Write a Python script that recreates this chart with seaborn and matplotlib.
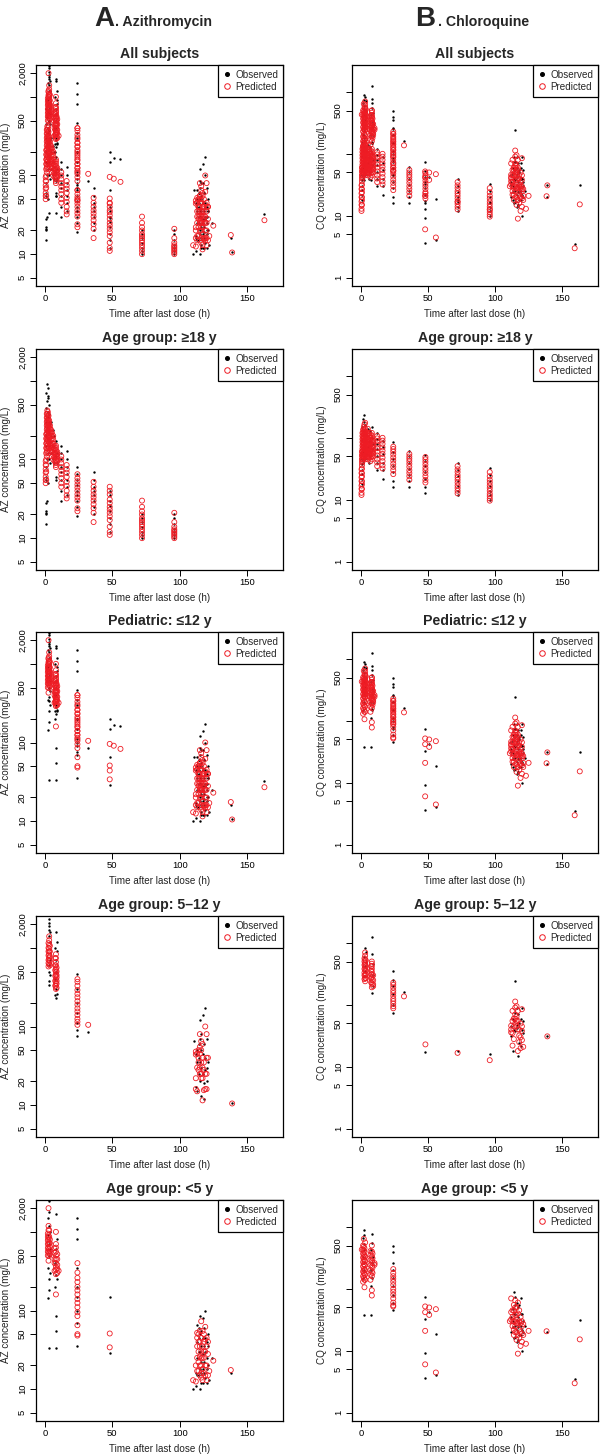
import matplotlib
matplotlib.use("Agg")
import matplotlib.pyplot as plt
import pandas as pd
import seaborn as sns
from matplotlib.lines import Line2D

# ---------------------------------------------------------------- data
# Each list: (time after last dose [h], [concentrations mg/L])
AZ_ADULT_OBS = [
    (0.3, [15, 22, 60]), (0.6, [20, 55, 150, 300]), (1.0, [21, 28, 80, 200, 450, 700]),
    (1.4, [30, 100, 250, 550, 900]), (1.8, [120, 350, 600, 800]), (2.2, [50, 180, 400, 650]),
    (2.6, [150, 300, 500]), (3.0, [100, 220, 380]), (3.5, [90, 170, 280]),
    (4.5, [120, 200, 300]), (5.5, [100, 150, 240]), (6.5, [90, 130, 200]),
    (8.0, [55, 60, 110, 170]), (9.0, [90, 120]),
    (12.0, [30, 40, 55, 70, 80, 100, 120, 150]), (16.0, [35, 45, 55, 65, 80, 100, 130]),
    (24.0, [19, 25, 30, 35, 40, 48, 55, 65, 80]), (36.0, [20, 25, 30, 35, 40, 45, 55, 70]),
    (48.0, [12, 15, 18, 22, 26, 30, 35, 40]), (72.0, [10, 11, 12, 14, 16, 18, 20]),
    (96.0, [10, 11, 12, 13, 15, 18, 20]),
]
AZ_ADULT_PRED = [
    (0.4, [50, 55, 60, 68, 75, 85, 95]), (0.8, [55, 70, 85, 100, 120, 140, 160, 185, 210]),
    (1.2, [110, 125, 140, 160, 180, 210, 240, 270, 300, 340, 380]),
    (1.6, [130, 150, 170, 195, 220, 250, 280, 310, 340, 380, 420]),
    (2.0, [150, 175, 200, 230, 260, 290, 320, 360, 400]),
    (2.5, [120, 145, 170, 200, 230, 260, 290, 325, 360]),
    (3.0, [140, 165, 190, 220, 250, 280, 310]), (3.6, [130, 150, 170, 195, 220, 245, 270]),
    (4.3, [150, 175, 200, 220, 240]), (5.0, [110, 125, 140, 160, 180, 200, 220]),
    (6.0, [100, 115, 130, 145, 160, 180, 200]), (7.0, [95, 108, 120, 135, 150]),
    (8.0, [80, 85, 90, 95, 100, 108, 115, 122, 130, 140, 150]), (9.0, [95, 102, 110, 118, 125]),
    (12.0, [45, 50, 58, 65, 72, 80, 90, 100, 110]), (16.0, [32, 35, 40, 46, 52, 60, 68, 75, 85]),
    (24.0, [22, 24, 30, 33, 36, 40, 44, 48, 53, 58, 65]),
    (36.0, [16, 21, 24, 27, 30, 33, 36, 40, 45, 52]),
    (48.0, [11, 12, 14, 17, 19, 21, 23, 25, 28, 31, 36, 40, 45]),
    (72.0, [10, 11, 12, 13, 14, 15, 16, 17, 18, 20, 22, 25, 30]),
    (96.0, [10, 10.5, 11, 11.5, 12, 12.5, 13, 14, 16, 21]),
]
AZ_512_OBS = [
    (2.5, [380, 1700, 2100]), (3.0, [340, 500, 600, 1400, 1900, 2300]), (3.5, [450, 700, 1200, 1600]),
    (7.5, [250, 400, 1000]), (8.0, [230, 300, 500, 700, 1600]), (8.5, [260, 900, 1200]),
    (24.0, [75, 90, 110, 150, 200, 300, 470]), (32.0, [85]),
    (111, [65]), (112, [17, 45]), (113, [15, 35, 50]), (114, [25, 40, 60]),
    (115, [20, 35, 70, 120]), (116, [13, 30, 50, 80]), (117, [25, 45, 140]), (118, [12, 19, 60]),
    (119, [28, 40, 170]), (120, [20, 30, 70]), (121, [35]), (139, [10.5]),
]
AZ_512_PRED = [
    (2.5, [580, 640, 700, 800, 900, 1000, 1150]),
    (3.0, [620, 700, 750, 820, 900, 980, 1100, 1250, 1400]),
    (3.5, [600, 680, 780, 900, 1060]),
    (7.5, [330, 380, 440, 520, 600, 740]),
    (8.0, [300, 330, 360, 400, 450, 490, 540, 600, 660, 740, 830]),
    (8.5, [310, 350, 380, 420, 450, 500, 560]),
    (24.0, [105, 115, 125, 140, 155, 170, 190, 210, 235, 260, 290, 330, 370, 400]), (32.0, [105]),
    (112, [16, 22, 44, 48]), (113, [15, 30, 45]), (114, [28, 35, 40, 50]),
    (115, [25, 30, 45, 55, 80]), (116, [22, 25, 35, 50, 65]), (117, [11.5, 22, 30, 40, 60]),
    (118, [15.5, 28, 35]), (119, [16, 25, 100]), (120, [16, 25, 40, 80]), (121, [40]),
    (139, [10.5]),
]
AZ_U5_OBS = [
    (2.0, [146, 350, 900, 1500]), (2.5, [180, 500, 1200, 2500]), (3.0, [33, 250, 700, 1800]),
    (3.5, [300, 600, 1000]), (7.0, [200, 400]), (8.0, [33, 55, 85, 280, 600, 1700]), (9.0, [250, 800]),
    (24.0, [35, 70, 100, 150, 200, 350, 800, 1100, 1500]), (48.0, [29, 150]),
    (110, [10]), (112, [11, 16]), (113, [15, 25, 40, 65]), (114, [15, 30, 45, 60]),
    (115, [10, 18, 30, 50, 85]), (116, [12, 16, 22, 35, 55]), (117, [12, 18, 28, 45, 80]),
    (118, [16, 22, 35, 60]), (119, [14, 30, 45, 100]), (120, [12, 18, 25, 40]),
    (121, [20, 35, 50]), (122, [13]), (124, [25]), (138, [16]),
]
AZ_U5_PRED = [
    (2.0, [500, 560, 620, 700, 780, 860, 950]),
    (2.5, [430, 550, 640, 700, 800, 900, 1050, 1190, 2000]),
    (3.0, [495, 540, 600, 720, 860, 1050]), (3.5, [520, 580, 650, 720, 800]),
    (7.0, [320, 400, 450, 540, 620]),
    (8.0, [160, 290, 330, 360, 400, 450, 500, 560, 630, 700, 1000]),
    (9.0, [300, 340, 380, 450, 520]), (10.0, [320]),
    (24.0, [48, 50, 65, 85, 95, 110, 125, 140, 160, 180, 200, 230, 260, 304, 400]), (48.0, [34, 51]),
    (110, [13]), (112, [12.5, 20]), (113, [17, 25, 35, 45, 52]), (114, [17, 22, 30, 40, 50]),
    (115, [15, 20, 26, 35, 40, 55]), (116, [14, 16, 20, 25, 30, 45, 73]),
    (117, [13, 18, 25, 35, 55]), (118, [16, 25, 30, 40, 50]), (119, [15, 20, 30, 43, 62]),
    (120, [13, 20, 35, 45]), (121, [15, 28, 40]), (122, [17]), (125, [23]), (138, [17.5]),
]
AZ_PED_OTHER_OBS = [(48.0, [66, 200]), (51.0, [165]), (56.0, [160]), (163.0, [32])]
AZ_PED_OTHER_PRED = [(48.0, [44, 96]), (51.0, [91]), (56.0, [83]), (163.0, [27])]

CQ_ADULT_OBS = [
    (0.3, [18, 22, 26]), (0.7, [30, 38, 55]), (1.0, [45, 90, 150]), (1.5, [40, 60, 110, 200]),
    (2.0, [50, 75, 130, 235]), (2.5, [65, 180]), (3.0, [45, 90, 160]), (4.0, [55, 110]),
    (5.0, [70, 140]), (6.0, [40, 90]), (7.0, [50, 130]), (8.0, [65, 100, 150]), (9.0, [80]),
    (12.0, [30, 40, 50, 65, 80, 95, 120]), (16.0, [22, 30, 40, 55, 70, 90]),
    (24.0, [16, 20, 28, 35, 45, 60, 85]), (36.0, [16, 20, 25, 32, 40, 50, 62]),
    (48.0, [13, 16, 22, 28, 35, 42, 52]), (72.0, [12, 14, 17, 20, 24, 30, 40]),
    (96.0, [10, 12, 14, 17, 20, 25, 33]),
]
CQ_ADULT_PRED = [
    (0.3, [12, 13, 15, 17, 20, 23, 27, 31]),
    (0.6, [15, 18, 20, 24, 27, 32, 36, 40, 45, 52, 60]),
    (1.0, [42, 46, 50, 55, 60, 67, 75, 85, 95, 107, 120]),
    (1.5, [45, 50, 55, 62, 70, 77, 85, 95, 105, 120, 135]),
    (2.0, [50, 56, 62, 70, 80, 90, 100, 112, 125, 137, 150]),
    (2.5, [48, 54, 60, 66, 72, 80, 90, 102, 115, 130, 165]),
    (3.0, [45, 51, 58, 64, 70, 78, 88, 98, 110, 125, 140, 175]),
    (4.0, [50, 57, 65, 72, 80, 90, 100, 112, 125]),
    (5.0, [45, 51, 58, 66, 75, 85, 95, 115, 140]),
    (6.0, [48, 54, 60, 68, 78, 88, 100, 110, 120]),
    (7.0, [42, 48, 55, 62, 70, 80, 90, 100, 110]),
    (8.0, [45, 50, 55, 60, 65, 72, 80, 90, 100, 110, 120]),
    (9.0, [50, 56, 62, 68, 75, 82, 90]),
    (12.0, [35, 40, 45, 52, 60, 68, 78, 88, 98, 107]), (16.0, [32, 36, 42, 48, 55, 62, 70, 80, 90, 100]),
    (24.0, [26, 30, 34, 38, 43, 48, 54, 60, 66, 72]), (36.0, [21, 24, 27, 30, 34, 38, 42, 46, 50, 55]),
    (48.0, [19, 21, 24, 27, 30, 33, 37, 41, 45, 49]),
    (72.0, [12.7, 14, 15.5, 17, 19, 21, 23, 25, 28, 31, 35]),
    (96.0, [9.7, 10.5, 11.5, 12.5, 14, 15.5, 17, 19, 21, 24, 28]),
]
CQ_512_OBS = [
    (2.5, [290, 600]), (3.0, [350, 420, 830]), (3.5, [500, 700]), (8.0, [154, 660, 1230]),
    (8.5, [200, 300, 450]), (24.0, [75, 100, 150, 200, 250, 357]), (32.0, [162]),
    (112, [32, 45]), (113, [18, 60]), (114, [40, 55]), (115, [38, 75, 245]), (116, [42, 48, 90]),
    (117, [15, 70]), (118, [24, 50]), (119, [22, 60]), (120, [40, 90]), (121, [35, 55]), (139, [31]),
]
CQ_512_PRED = [
    (2.5, [260, 300, 330, 380, 440, 500, 560]),
    (3.0, [240, 270, 300, 360, 400, 440, 480, 540, 620, 700]), (3.5, [270, 310, 350, 420, 520]),
    (7.5, [230, 270, 310, 360, 420]), (8.0, [192, 220, 250, 280, 310, 340, 380, 420, 460, 500]),
    (9.0, [200, 215, 250, 300]),
    (24.0, [88, 95, 105, 115, 125, 140, 155, 170, 190, 210, 228]), (32.0, [137]),
    (112, [36, 40, 46]), (113, [22, 35, 55, 80]), (114, [28, 45, 60]), (115, [50, 60, 70, 90, 113]),
    (116, [45, 55, 65, 95]), (117, [18, 40, 55, 80]), (118, [25, 32, 40]), (119, [20, 30, 50]),
    (120, [27, 38, 45, 85]), (121, [21]), (139, [31]),
]
CQ_512_VISIT_OBS = [(48.0, [17.6]), (72.0, [18]), (96.0, [16])]
CQ_512_VISIT_PRED = [(48.0, [23]), (72.0, [16.8]), (96.0, [12.8])]
CQ_U5_OBS = [
    (1.5, [150, 330, 650]), (2.0, [38, 200, 520, 900]), (2.5, [260, 420, 750]),
    (7.5, [38, 110, 200, 420]), (8.0, [150, 260, 550, 774]), (8.5, [330]),
    (24.0, [46, 60, 80, 110, 150, 200, 260, 400, 500]),
    (47.8, [3.66, 9.1, 33, 73]), (50.8, [43]), (55.8, [4.0, 19]),
    (112, [20, 35]), (113, [24, 30, 48]), (114, [16, 28, 40, 90]), (115, [17, 25, 40, 55, 75]),
    (116, [14, 22, 32, 60]), (117, [15, 24, 35, 50]), (118, [18, 28, 55]), (119, [18, 25, 40, 70]),
    (120, [10, 22, 40]), (121, [20, 30]), (122, [25]),
    (138.4, [20]), (159.4, [3.46]), (163.2, [31.6]),
]
CQ_U5_PRED = [
    (0.5, [430]), (1.5, [130, 160, 190, 230, 270, 320, 370, 430, 500]),
    (2.0, [150, 180, 210, 250, 300, 350, 410, 480, 640]),
    (2.5, [106, 140, 170, 200, 240, 280, 330, 390, 450]),
    (3.0, [140, 170, 200, 240, 280, 330, 560]),
    (7.0, [140, 170, 200, 240, 290, 350, 408]), (8.0, [78, 95, 160, 190, 230, 280, 330, 400, 500]),
    (8.5, [180, 220, 260, 310, 370]), (10.0, [245, 260]),
    (24.0, [52, 54, 60, 70, 80, 90, 100, 115, 130, 145, 160, 180, 208]),
    (47.8, [6.05, 21, 42, 52]), (50.8, [38, 50]), (55.8, [4.47, 47]),
    (111, [30]), (112, [32, 42, 70]), (113, [25, 30, 35, 45]), (114, [18, 22, 30, 45, 55]),
    (115, [20, 25, 30, 38, 50, 65]), (116, [15, 20, 28, 38, 50]), (117, [9, 18, 28, 40, 60]),
    (118, [16, 22, 30, 45]), (119, [12, 20, 28, 35]), (120, [14, 19, 25, 30]), (121, [18, 27]),
    (123, [13]), (125, [21]),
    (138.4, [20.7]), (159.4, [3.0]), (163.2, [15.3]),
]

TITLES = ["All subjects", "Age group: \u226518 y", "Pediatric: \u226412 y",
          "Age group: 5\u201312 y", "Age group: <5 y"]
AZ_TICKS = [5, 10, 20, 50, 100, 200, 500, 1000, 2000]
AZ_TICKLABELS = ["5", "10", "20", "50", "100", "", "500", "", "2,000"]
CQ_TICKS = [1, 5, 10, 50, 100, 500, 1000]
CQ_TICKLABELS = ["1", "5", "10", "50", "", "500", ""]
X_TICKS = [0, 50, 100, 150]

# ---------------------------------------------------------------- groups
az_ped_obs = AZ_512_OBS + AZ_U5_OBS + AZ_PED_OTHER_OBS
az_ped_pred = AZ_512_PRED + AZ_U5_PRED + AZ_PED_OTHER_PRED
cq_ped_obs = CQ_512_OBS + CQ_U5_OBS
cq_ped_pred = CQ_512_PRED + CQ_U5_PRED

AZ_PANELS = [
    (AZ_ADULT_OBS + az_ped_obs, AZ_ADULT_PRED + az_ped_pred),
    (AZ_ADULT_OBS, AZ_ADULT_PRED),
    (az_ped_obs, az_ped_pred),
    (AZ_512_OBS, AZ_512_PRED),
    (AZ_U5_OBS, AZ_U5_PRED),
]
CQ_PANELS = [
    (CQ_ADULT_OBS + cq_ped_obs + CQ_512_VISIT_OBS, CQ_ADULT_PRED + cq_ped_pred + CQ_512_VISIT_PRED),
    (CQ_ADULT_OBS, CQ_ADULT_PRED),
    (cq_ped_obs, cq_ped_pred),
    (CQ_512_OBS + CQ_512_VISIT_OBS, CQ_512_PRED + CQ_512_VISIT_PRED),
    (CQ_U5_OBS, CQ_U5_PRED),
]


def to_frame(groups):
    rows = [(t, c) for t, cs in groups for c in cs]
    return pd.DataFrame(rows, columns=["time", "conc"])


# ---------------------------------------------------------------- figure
sns.set_theme(style="white")
plt.rcParams["font.family"] = ["Liberation Sans", "DejaVu Sans"]

W, H = 600, 1456
fig = plt.figure(figsize=(W / 100, H / 100), dpi=100)

ROW_TOPS = [65, 349, 632, 916, 1200]
AX_H = 221
COLS = [
    dict(left=36, width=247, panels=AZ_PANELS, ticks=AZ_TICKS, labels=AZ_TICKLABELS,
         ylim=(10 ** 0.5949, 10 ** 3.4051), ylabel="AZ concentration (mg/L)"),
    dict(left=352, width=246, panels=CQ_PANELS, ticks=CQ_TICKS, labels=CQ_TICKLABELS,
         ylim=(10 ** -0.1321, 10 ** 3.4331), ylabel="CQ concentration (mg/L)"),
]
RED = "#EE1C24"

for col in COLS:
    for r, top in enumerate(ROW_TOPS):
        ax = fig.add_axes([col["left"] / W, 1 - (top + AX_H) / H, col["width"] / W, AX_H / H])
        obs, pred = col["panels"][r]
        sns.scatterplot(data=to_frame(obs), x="time", y="conc", ax=ax, color="black",
                        s=3, linewidth=0, marker="o", legend=False, zorder=2)
        sns.scatterplot(data=to_frame(pred), x="time", y="conc", ax=ax,
                        facecolor="none", edgecolor=RED, s=13, linewidth=0.6,
                        marker="o", legend=False, zorder=3)
        ax.set_yscale("log")
        ax.set_xlim(-6.8, 176.8)
        ax.set_ylim(*col["ylim"])
        ax.set_yticks(col["ticks"])
        ax.set_yticklabels(col["labels"])
        ax.yaxis.set_minor_locator(matplotlib.ticker.NullLocator())
        ax.set_xticks(X_TICKS)
        ax.set_xticklabels([str(v) for v in X_TICKS])
        ax.tick_params(axis="both", which="major", bottom=True, left=True, direction="out",
                       length=4, width=0.7, color="black", labelsize=6.8, labelcolor="black")
        ax.tick_params(axis="x", pad=2)
        ax.tick_params(axis="y", pad=2.5)
        for lab in ax.get_yticklabels():
            lab.set_rotation(90)
            lab.set_va("center")
        for sp in ax.spines.values():
            sp.set_visible(True)
            sp.set_color("black")
            sp.set_linewidth(0.9)
        ax.set_xlabel("Time after last dose (h)", fontsize=7.1, color="#222222")
        ax.set_ylabel(col["ylabel"], fontsize=7.1, color="#222222")
        ax.xaxis.set_label_coords(0.5, -0.105)
        ax.yaxis.set_label_coords(-25 / col["width"], 0.5)
        ax.set_title(TITLES[r], fontsize=10.2, fontweight="bold", pad=5)
        handles = [
            Line2D([], [], marker="o", linestyle="none", markersize=2.6,
                   markerfacecolor="black", markeredgecolor="black"),
            Line2D([], [], marker="o", linestyle="none", markersize=4,
                   markerfacecolor="none", markeredgecolor=RED, markeredgewidth=0.7),
        ]
        leg = ax.legend(handles, ["Observed", "Predicted"], loc="upper right",
                        bbox_to_anchor=(1, 1), borderaxespad=0, fontsize=7.1,
                        frameon=True, fancybox=False, framealpha=1, edgecolor="black",
                        borderpad=0.5, labelspacing=0.2, handlelength=0.8,
                        handletextpad=0.4)
        leg.get_frame().set_linewidth(0.9)

# column headers
fig.text(94 / W, 1 - 26 / H, "A", fontsize=20, fontweight="bold", va="baseline", ha="left")
fig.text(115 / W, 1 - 26 / H, ". Azithromycin", fontsize=10.2, fontweight="bold",
         va="baseline", ha="left")
fig.text(415 / W, 1 - 26 / H, "B", fontsize=20, fontweight="bold", va="baseline", ha="left")
fig.text(438 / W, 1 - 26 / H, ". Chloroquine", fontsize=10.2, fontweight="bold",
         va="baseline", ha="left")

fig.savefig("out.png", dpi=100, facecolor="white")
